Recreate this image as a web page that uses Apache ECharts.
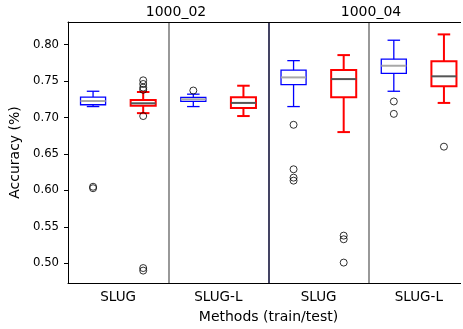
<!DOCTYPE html>
<html>
<head>
<meta charset="utf-8">
<script src="https://cdn.jsdelivr.net/npm/echarts@6/dist/echarts.min.js"></script>
<style>
  html, body { margin: 0; padding: 0; background: #fff; overflow: hidden; }
  /* the plot's right edge runs past the frame, as in the original crop */
  #frame { width: 461px; height: 329px; overflow: hidden; position: relative; }
  #chart { width: 475px; height: 329px; }
</style>
</head>
<body>
<div id="frame"><div id="chart"></div></div>
<script>
// methods along the x axis, two panels (1000_02 / 1000_04)
var groups = ['SLUG', 'SLUG-L', 'SLUG', 'SLUG-L'];
var panelTitles = ['1000_02', '1000_04'];
var yTicks = [0.50, 0.55, 0.60, 0.65, 0.70, 0.75, 0.80];

// [whisker low, q1, median, q3, whisker high]
var trainBoxes = [
    [0.715, 0.7175, 0.7226, 0.728, 0.736],
    [0.715, 0.722, 0.725, 0.7277, 0.732],
    [0.715, 0.745, 0.755, 0.765, 0.778],
    [0.736, 0.7605, 0.771, 0.780, 0.806]
];
var testBoxes = [
    [0.706, 0.716, 0.7195, 0.724, 0.735],
    [0.702, 0.713, 0.720, 0.7277, 0.7436],
    [0.680, 0.7277, 0.7527, 0.765, 0.7856],
    [0.720, 0.743, 0.7565, 0.777, 0.814]
];
var trainOutliers = [
    [0.605, 0.603],
    [0.737],
    [0.690, 0.629, 0.6175, 0.6134],
    [0.722, 0.705]
];
var testOutliers = [
    [0.751, 0.746, 0.741, 0.738, 0.702, 0.4935, 0.490],
    [],
    [0.538, 0.533, 0.501],
    [0.660]
];

var FONT = 'DejaVu Sans';
var chart = echarts.init(document.getElementById('chart'), null, { renderer: 'canvas' });

// one slot per box: train at even slots, test at odd slots
var slots = [];
groups.forEach(function (g, i) { slots.push(g + '_train_' + i, g + '_test_' + i); });

function boxRenderer(color, lw, medColor) {
    return function (params, api) {
        var x = api.value(0);
        var half = api.size([1, 0])[0] * 0.25;
        var cap = half / 2;
        var lo = api.coord([x, api.value(1)]);
        var q1 = api.coord([x, api.value(2)]);
        var med = api.coord([x, api.value(3)]);
        var q3 = api.coord([x, api.value(4)]);
        var hi = api.coord([x, api.value(5)]);
        var cx = lo[0];
        var st = { stroke: color, lineWidth: lw, fill: 'none' };
        return {
            type: 'group',
            children: [
                { type: 'line', shape: { x1: cx, y1: hi[1], x2: cx, y2: q3[1] }, style: st },
                { type: 'line', shape: { x1: cx, y1: q1[1], x2: cx, y2: lo[1] }, style: st },
                { type: 'line', shape: { x1: cx - cap, y1: hi[1], x2: cx + cap, y2: hi[1] }, style: st },
                { type: 'line', shape: { x1: cx - cap, y1: lo[1], x2: cx + cap, y2: lo[1] }, style: st },
                { type: 'rect', shape: { x: cx - half, y: q3[1], width: 2 * half, height: q1[1] - q3[1] }, style: st },
                { type: 'line', shape: { x1: cx - half, y1: med[1], x2: cx + half, y2: med[1] },
                  style: { stroke: medColor, lineWidth: 2 } }
            ]
        };
    };
}

function boxData(list, offset) {
    return list.map(function (s, g) { return [2 * g + offset].concat(s); });
}
function outlierData(list, offset) {
    var out = [];
    list.forEach(function (vals, g) {
        vals.forEach(function (v) { out.push([2 * g + offset, v]); });
    });
    return out;
}

// panel separators: split lines of a 0..8 value axis, one per group boundary
var splitColors = ['#7f7f7f', '#15153d', '#7f7f7f'];

var titleStyle = { fontFamily: FONT, fontSize: 14, fontWeight: 'normal', color: '#000' };

var option = {
    backgroundColor: '#ffffff',
    animation: false,
    textStyle: { fontFamily: FONT },
    title: [
        { text: panelTitles[0], left: 171, top: 0, textAlign: 'center', textStyle: titleStyle },
        { text: panelTitles[1], left: 366, top: 0, textAlign: 'center', textStyle: titleStyle }
    ],
    grid: { left: 68, top: 22, width: 401, height: 261, show: false },
    xAxis: [
        { type: 'category', data: slots, show: false, boundaryGap: true },
        {
            type: 'category', data: groups, position: 'bottom',
            axisLine: { onZero: false, lineStyle: { color: '#000', width: 1 } },
            axisTick: { alignWithLabel: true, length: 4, lineStyle: { color: '#000' } },
            axisLabel: { color: '#000', fontSize: 13.5, fontFamily: FONT, margin: 7 },
            splitLine: { show: false },
            name: 'Methods (train/test)', nameLocation: 'middle', nameGap: 27,
            nameTextStyle: { color: '#000', fontSize: 14, fontFamily: FONT }
        },
        {
            // frame line along the top, also carries the panel separators
            type: 'value', min: 0, max: 2 * groups.length, interval: 2, position: 'top',
            axisLine: { show: true, onZero: false, lineStyle: { color: '#000', width: 1 } },
            axisTick: { show: false }, axisLabel: { show: false },
            splitLine: {
                show: true, showMinLine: false, showMaxLine: false,
                lineStyle: { color: splitColors, width: 1.6 }
            }
        }
    ],
    yAxis: {
        type: 'value', min: 0.473, max: 0.831,
        axisLine: { show: true, onZero: false, lineStyle: { color: '#000', width: 1 } },
        axisTick: { show: true, length: 4, customValues: yTicks, lineStyle: { color: '#000' } },
        axisLabel: {
            customValues: yTicks, color: '#000', fontSize: 11.7, fontFamily: FONT, margin: 9,
            formatter: function (v) { return v.toFixed(2); }
        },
        splitLine: { show: false },
        name: 'Accuracy (%)', nameLocation: 'middle', nameGap: 35,
        nameTextStyle: { color: '#000', fontSize: 14, fontFamily: FONT }
    },
    series: [
        {
            type: 'custom', xAxisIndex: 0, renderItem: boxRenderer('#0000ff', 1.3, '#a8a8a8'),
            data: boxData(trainBoxes, 0), encode: { x: 0, y: [1, 2, 3, 4, 5] }, z: 3
        },
        {
            type: 'custom', xAxisIndex: 0, renderItem: boxRenderer('#ff0000', 2, '#555555'),
            data: boxData(testBoxes, 1), encode: { x: 0, y: [1, 2, 3, 4, 5] }, z: 3
        },
        {
            type: 'scatter', xAxisIndex: 0, data: outlierData(trainOutliers, 0),
            symbol: 'circle', symbolSize: 7,
            itemStyle: { color: 'rgba(0,0,0,0)', borderColor: '#000', borderWidth: 1 }, z: 4
        },
        {
            type: 'scatter', xAxisIndex: 0, data: outlierData(testOutliers, 1),
            symbol: 'circle', symbolSize: 7,
            itemStyle: { color: 'rgba(0,0,0,0)', borderColor: '#000', borderWidth: 1 }, z: 4
        }
    ]
};
chart.setOption(option);
</script>
</body>
</html>
